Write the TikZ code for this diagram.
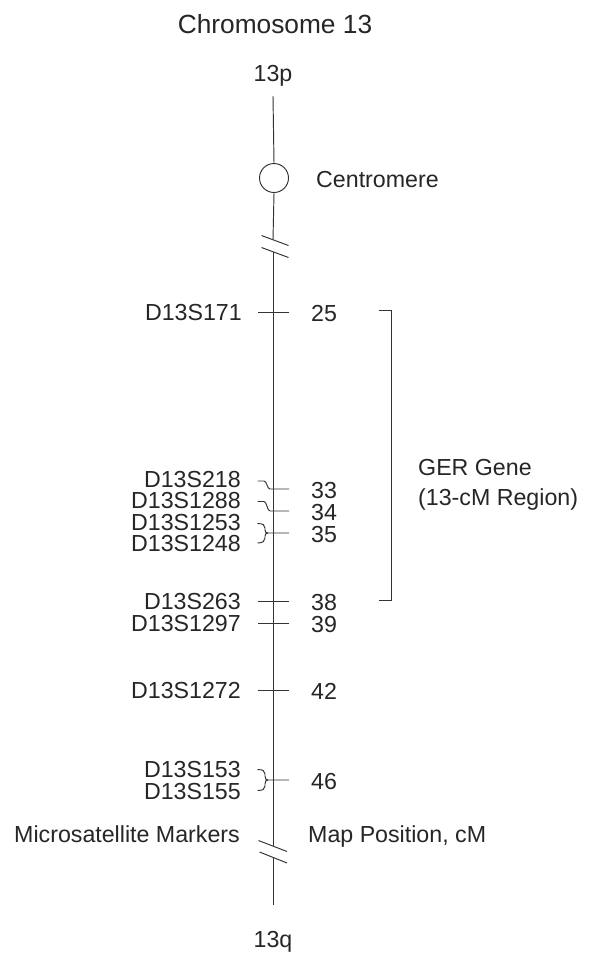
\documentclass[tikz,border=0pt]{standalone}
\usepackage{fontspec}
\setmainfont{Liberation Sans}
\begin{document}
\begin{tikzpicture}[x=1pt,y=-1pt,
  ink/.style={draw=black!80, line width=0.95pt},
  lab/.style={font=\fontsize{23.2}{27}\selectfont, text=black!85, inner sep=0pt, text height=16.6pt, text depth=0pt},
  ttl/.style={font=\fontsize{26.3}{31}\selectfont, text=black!85, inner sep=0pt, text height=18.8pt, text depth=0pt}]
\fill[white] (0,0) rectangle (589,956);
\useasboundingbox (0,0) rectangle (589,956);

% title and ends
\node[ttl] (title) at (275,24) {Chromosome 13};
\node[lab] (p) at (273,73) {13p};
\node[lab] (q) at (273,939) {13q};

% centromere
\node[ink, circle, minimum size=29pt, inner sep=0pt] (cen) at (274,178) {};
\node[lab, anchor=west] (centxt) at (316,179) {Centromere};

% chromosome line
\coordinate (ptop) at (273,96);
\coordinate (b1) at (273,240);
\coordinate (b2) at (273,252);
\coordinate (b3) at (273,846);
\coordinate (b4) at (273,857);
\coordinate (qbot) at (273,905);
\draw[ink] (ptop) -- (cen.north);
\draw[ink] (cen.south) -- (b1);
\draw[ink] (b2) -- (b3);
\draw[ink] (b4) -- (qbot);
% break marks
\draw[ink] (261.5,235.5) -- (288.5,245.5);
\draw[ink] (261.5,247.5) -- (288.5,257.5);
\draw[ink] (258.5,840.5) -- (287,851.5);
\draw[ink] (259.5,852) -- (287,863);

% markers
\node[lab, anchor=east] (m171) at (242,312) {D13S171};
\node[lab, anchor=west] (v25) at (311,313) {25};
\draw[ink] (258,312) -- (289,312);

\node[lab, anchor=east] (m218) at (241,479) {D13S218};
\node[lab, anchor=west] (v33) at (311,490) {33};
\draw[ink] (257.5,481) -- (264,481) .. controls (267,481) and (267,489) .. (270,489) -- (289,489);

\node[lab, anchor=east] (m1288) at (241,500) {D13S1288};
\node[lab, anchor=west] (v34) at (311,512) {34};
\draw[ink] (257.5,501.5) -- (264,501.5) .. controls (267,501.5) and (267,511) .. (270,511) -- (289,511);

\node[lab, anchor=east] (m1253) at (241,522) {D13S1253};
\node[lab, anchor=east] (m1248) at (241,543) {D13S1248};
\node[lab, anchor=west] (v35) at (311,534) {35};
\draw[ink] (257.5,523.5) .. controls (263,523.5) and (265,525) .. (265,528) -- (265,530)
  .. controls (265,532) and (266,533) .. (268,533) -- (289,533);
\draw[ink] (268,533) .. controls (266,533) and (265,534) .. (265,536) -- (265,538)
  .. controls (265,541) and (263,543) .. (257.5,543);

\node[lab, anchor=east] (m263) at (241,601) {D13S263};
\node[lab, anchor=west] (v38) at (311,602) {38};
\draw[ink] (258,601) -- (289,601);

\node[lab, anchor=east] (m1297) at (241,623) {D13S1297};
\node[lab, anchor=west] (v39) at (311,624) {39};
\draw[ink] (258,623) -- (289,623);

\node[lab, anchor=east] (m1272) at (241,690) {D13S1272};
\node[lab, anchor=west] (v42) at (311,691) {42};
\draw[ink] (258,690) -- (289,690);

\node[lab, anchor=east] (m153) at (241,769) {D13S153};
\node[lab, anchor=east] (m155) at (241,791) {D13S155};
\node[lab, anchor=west] (v46) at (311,781) {46};
\draw[ink] (257.5,769.5) .. controls (263,769.5) and (265,771) .. (265,774) -- (265,776)
  .. controls (265,779) and (266,780) .. (268,780) -- (289,780);
\draw[ink] (268,780) .. controls (266,780) and (265,781) .. (265,784) -- (265,786)
  .. controls (265,789) and (263,790.5) .. (257.5,790.5);

% axis captions
\node[lab, anchor=east] (mscap) at (240,834) {Microsatellite Markers};
\node[lab, anchor=west] (mpcap) at (308,834) {Map Position, cM};

% GER bracket
\coordinate (gt) at (379,310);
\coordinate (gb) at (379,600);
\draw[ink] (gt) -- (391.5,310) -- (391.5,600) -- (gb);
\node[lab, anchor=west] (ger1) at (418,467) {GER Gene};
\node[lab, anchor=west] (ger2) at (418,497) {(13-cM Region)};
\end{tikzpicture}
\end{document}
